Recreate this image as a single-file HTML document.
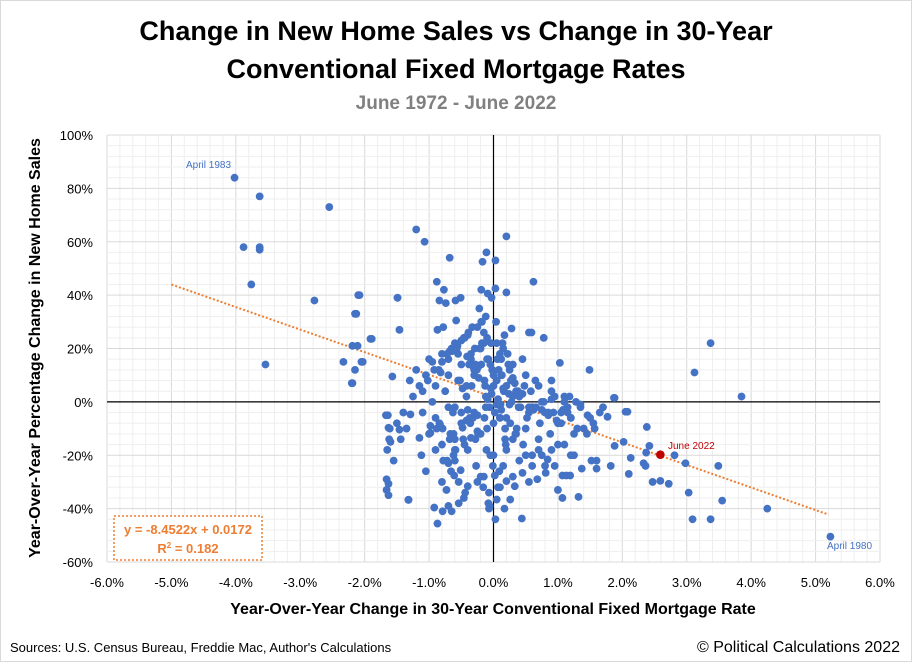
<!DOCTYPE html>
<html><head><meta charset="utf-8"><style>
body{margin:0;background:#fff;width:912px;height:662px;overflow:hidden;font-family:"Liberation Sans",Arial,sans-serif}
svg{display:block}
</style></head><body>
<svg id="c" width="912" height="662" xmlns="http://www.w3.org/2000/svg">
<rect x="0.5" y="0.5" width="911" height="661" fill="#fff" stroke="#d9d9d9"/>
<text x="456" y="40" text-anchor="middle" font-size="27" font-weight="bold" fill="#000">Change in New Home Sales vs Change in 30-Year</text>
<text x="456" y="78" text-anchor="middle" font-size="27" font-weight="bold" fill="#000">Conventional Fixed Mortgage Rates</text>
<text x="456" y="109" text-anchor="middle" font-size="19" font-weight="bold" fill="#808080">June 1972 - June 2022</text>
<g id="grid"></g>
<g id="axes"></g>
<g id="trend"></g>
<g id="pts"></g>
<g id="ann"></g>
<text x="40" y="348" transform="rotate(-90 40 348)" text-anchor="middle" font-size="16" font-weight="bold">Year-Over-Year Percentage Change in New Home Sales</text>
<text x="493" y="614" text-anchor="middle" font-size="16" font-weight="bold">Year-Over-Year Change in 30-Year Conventional Fixed Mortgage Rate</text>
<text x="10" y="652" font-size="13">Sources: U.S. Census Bureau, Freddie Mac, Author's Calculations</text>
<text x="900" y="652" text-anchor="end" font-size="16">© Political Calculations 2022</text>
<rect x="114" y="516" width="148" height="44" fill="#fff" stroke="#ed7d31" stroke-width="1.5" stroke-dasharray="2,2"/>
<text x="188" y="534" text-anchor="middle" font-size="13" font-weight="bold" fill="#ed7d31">y = -8.4522x + 0.0172</text>
<text x="188" y="553" text-anchor="middle" font-size="13" font-weight="bold" fill="#ed7d31">R<tspan font-size="8" dy="-5">2</tspan><tspan dy="5"> = 0.182</tspan></text>
</svg>
<script>
const xTicks=[-6,-5,-4,-3,-2,-1,0,1,2,3,4,5,6];
const yTicks=[-60,-40,-20,0,20,40,60,80,100];
const slope=-8.4522, intercept=0.0172;
const trendRange=[-5.0,5.2];
const xChange=[-4.02,-3.63,-2.55,-3.88,-3.63,-3.63,-3.76,-3.54,-2.78,-2.08,-2.13,-1.49,3.37,3.12,3.85,5.23,4.25,3.49,3.55,3.37,3.09,3.03,
-1.20,-1.07,0.20,-0.68,-0.11,-0.17,0.03,0.62,-0.88,-0.77,-0.19,0.03,0.20,-0.09,-0.03,-0.84,-0.74,-0.59,-0.51,-1.49,-2.1,-2.15,-0.22,-0.19,-0.12,-0.58,-1.46,-0.87,-0.78,0.28,0.55,0.59,-1.91,-2.11,-2.05,-2.15,-2.2,0.78,1.49,1.03,1.87,2.05,1.77,1.46,2.38,1.57,2.02,2.37,1.82,2.1,2.36,1.6,1.37,1.52,1.32,1.07,1.0,1.07,1.13,1.19,0.81,0.68,0.84,0.45,0.44,0.17,0.33,0.26,0.2,0.07,0.05,-0.07,-0.08,-0.06,0.02,-0.2,-0.4,-0.46,-0.54,-0.65,-0.7,-0.79,-0.92,-0.87,-0.73,-0.8,-0.61,-0.51,-0.7,-0.62,-0.59,-1.12,-1.32,-1.63,-1.63,-1.65,-1.6,-1.62,-1.63,-1.46,-1.44,-1.67,-1.29,-1.15,-0.98,-0.98,-0.83,-0.79,-0.67,-0.68,-0.48,-0.42,-0.35,-0.28,-0.25,
-2.19,-2.33,-2.19,-2.03,-1.57,-1.64,-1.61,-1.66,-1.66,-1.32,-1.89,2.08,1.88,2.13,2.33,2.42,2.47,2.59,2.72,1.88,2.81,2.98,
-1.3,-1.2,-1.1,-1.0,-0.9,-0.8,-0.7,-0.6,-0.5,-0.4,-0.3,-0.2,-0.1,0.0,0.1,0.2,0.3,0.4,0.5,0.6,0.7,0.8,0.9,1.0,1.1,1.2,1.3,
-1.25,-1.15,-1.05,-0.95,-0.85,-0.75,-0.65,-0.55,-0.45,-0.35,-0.25,-0.15,-0.05,0.05,0.15,0.25,0.35,0.45,0.55,0.65,0.75,0.85,0.95,1.05,1.15,1.25,
-1.1,-0.9,-0.7,-0.5,-0.3,-0.1,0.1,0.3,0.5,0.7,0.9,1.1,-1.0,-0.8,-0.6,-0.4,-0.2,0.0,0.2,0.4,0.6,0.8,1.0,1.2,
-0.95,-0.72,-0.48,-0.33,-0.18,-0.02,0.12,0.27,0.42,0.58,0.72,0.93,-0.88,-0.63,-0.42,-0.28,-0.12,0.04,0.18,0.36,0.52,0.66,0.88,1.15,
-0.55,-0.45,-0.38,-0.3,-0.22,-0.15,-0.08,0.0,0.08,0.14,0.22,0.3,-0.52,-0.42,-0.34,-0.26,-0.18,-0.1,-0.04,0.06,0.12,0.2,0.28,0.38,
-0.6,-0.5,-0.36,-0.24,-0.14,-0.06,0.02,0.1,0.18,0.26,0.34,0.46,1.4,1.55,1.7,1.65,1.35,1.5,-1.4,-1.5,-1.35,-1.55,0.6,0.7,0.9,1.1,0.35,0.5,-0.3,-0.45,-0.6,-0.9,-1.05,0.15,0.3,0.55,0.75,0.95,1.25,1.45,1.6,-0.25,-0.15,0.1,-0.05,
-0.78,-0.66,-0.54,-0.44,-0.32,-0.21,-0.11,-0.01,0.09,0.19,-0.72,-0.6,-0.47,-0.37,-0.27,-0.16,-0.07,0.03,0.13,0.23,-0.68,-0.56,-0.41,-0.31,-0.23,-0.13,-0.03,0.07,0.16,0.33,
-0.82,-0.7,-0.57,-0.46,-0.35,-0.24,-0.14,-0.04,0.05,0.17,-1.02,-0.92,-0.8,-0.64,-0.5,-0.39,-0.29,-0.19,-0.09,0.11,0.24,0.39,0.48,0.62,0.78,0.85,0.98,1.08,1.18,1.28,
0.05,0.15,0.3,0.45,0.6,0.75,0.9,1.05,1.2,1.35,-0.4,-0.25,-0.12,0.0,0.12,0.25,0.4,0.55,-0.62,-0.84];
const yChange=[84,77,73,58,58,57,44,14,38,40,33,39,22,11,2,-50.5,-40,-24,-37,-44,-44,-34,
64.6,60,62,54,56,52.5,53,45,45,42,42,42.5,41,40.6,39,38,37,38,39,39,40,33,35,30,32,30.5,27,27,28,27.5,26,26,23.6,21,15,12,7,24,12,14.6,1.5,-3.7,-5.6,-5,-9.4,-10,-15,-19,-24,-27,-24,-25,-25,-22,-35.6,-36,-33,-27.6,-27.6,-27.6,-26.6,-29,-21.6,-26.6,-43.7,-40,-31.6,-36.6,-29.7,-32,-36.6,-34,-38,-39,-27.6,-28,-31.6,-36,-38,-41,-39,-41,-39.6,-45.6,-33,-30,-27.6,-25.6,-23,-20,-18,-20,-36.7,-35,-30.7,-18,-15,-14,-9.7,-10.4,-14,-5,-4.7,-13.5,-11.6,-9,-8.5,-10,-12,-14,-9.7,-7,-13.5,-14,-11,
21,15,7,15,9.5,-5,-10,-29,-33,-36.7,23.6,-3.7,-16.5,-21,-23,-16.5,-30,-29.6,-30.7,1.5,-20,-23,
8,12,4,16,6,18,10,22,14,25,12,20,16,10,18,6,14,2,10,-2,6,-4,4,-8,0,-6,-10,
2,6,10,0,12,4,20,8,24,16,28,22,14,8,20,12,4,16,-2,8,0,-4,2,-8,-4,-12,
-4,-6,-2,-8,-4,-10,-6,-14,-10,-14,-18,-16,-12,-16,-14,-18,-12,-20,-18,-22,-20,-24,-16,-20,
15,18,5,28,22,12,16,8,-2,4,-8,-4,-10,-4,6,14,2,30,-14,-10,-6,-2,-12,-2,
18,24,14,10,20,26,16,6,12,22,18,2,8,2,6,12,30,24,22,16,10,-6,0,4,
-2,-4,-8,-12,-6,-2,-4,-6,-10,-8,-12,-16,-10,-8,-2,-4,-2,-6,-4,-8,-10,-22,-24,-18,8,2,-12,-20,14,-16,-22,-18,-26,-24,-28,-30,-20,-24,-20,-12,-22,-30,-28,-32,-20,-22,-26,-30,-34,-6,-12,-18,-24,-26,-16,-22,-18,-14,-6,-24,-32,-40,-44,
10,14,19,21,17,13,9,6,3,1,4,7,11,16,20,24,18,13,8,5,22,25,8,12,15,19,23,26,20,14,
1,-1,3,-2,6,-3,0,-5,-7,-3,2,0,-1,5,9,3,-2,-3,1,-4,-6,-1,-3,-5,-2,-8,-3,-1,2,-4,
-12,-8,-14,-10,-16,-12,-6,-8,-5,0,27,24,29,26,28,23,20,17,-18,-22];
const X0=107,X1=880,Y0=135,Y1=562;
const sx=v=>X0+(v+6)/12*(X1-X0);
const sy=v=>Y1-(v+60)/160*(Y1-Y0);
const NS="http://www.w3.org/2000/svg";
function mk(tag,attrs,parent){const e=document.createElementNS(NS,tag);for(const k in attrs)e.setAttribute(k,attrs[k]);parent.appendChild(e);return e;}
const grid=document.getElementById('grid'),axes=document.getElementById('axes');
for(let i=0;i<=60;i++){const v=-6+i*0.2;const x=sx(v);const major=i%5===0;
 const l=mk('line',{x1:x,x2:x,y1:Y0,y2:Y1,stroke:major?'#d9d9d9':'#efefef','stroke-width':1},grid);
 
 }
for(let i=0;i<=40;i++){const v=-60+i*4;const y=sy(v);const major=i%5===0;
 const l=mk('line',{x1:X0,x2:X1,y1:y,y2:y,stroke:major?'#d9d9d9':'#efefef','stroke-width':1},grid);
 
 }
let za=mk('line',{x1:sx(0),x2:sx(0),y1:Y0,y2:Y1,stroke:'#000','stroke-width':1.2},axes);


za=mk('line',{x1:X0,x2:X1,y1:sy(0),y2:sy(0),stroke:'#000','stroke-width':1.2},axes);


xTicks.forEach(v=>{const t=mk('text',{x:sx(v),y:Y1+25,'text-anchor':'middle','font-size':13},axes);t.textContent=v.toFixed(1)+'%';
 
 });
yTicks.forEach(v=>{const t=mk('text',{x:X0-14,y:sy(v)+5,'text-anchor':'end','font-size':13},axes);t.textContent=v+'%';
 
 });
const tr=document.getElementById('trend');
const tl=mk('line',{x1:sx(trendRange[0]),y1:sy((slope*trendRange[0]/100+intercept)*100),x2:sx(trendRange[1]),y2:sy((slope*trendRange[1]/100+intercept)*100),stroke:'#ed7d31','stroke-width':2,'stroke-dasharray':'2,2'},tr);


const pg=document.getElementById('pts');
for(let i=0;i<xChange.length;i++){const c=mk('circle',{cx:sx(xChange[i]),cy:sy(yChange[i]),r:3.9,fill:'#4472c4'},pg);
 
 }
const ann=document.getElementById('ann');
const red=mk('circle',{cx:sx(2.59),cy:sy(-19.8),r:4.3,fill:'#c00000'},ann);


function lab(x,y,txt,col,name){const t=mk('text',{x:x,y:y,'font-size':10,fill:col},ann);t.textContent=txt;
 
 }
lab(186,168,'April 1983','#4472c4','label-april-1983');
lab(668,449,'June 2022','#c00000','label-june-2022');
lab(827,549,'April 1980','#4472c4','label-april-1980');
</script>
</body></html>
